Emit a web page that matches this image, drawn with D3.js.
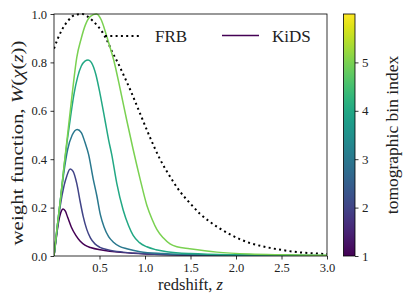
<!DOCTYPE html>
<html>
<head>
<meta charset="utf-8">
<script src="https://cdn.jsdelivr.net/npm/d3@7"></script>
<style>
  body { margin: 0; background: #fff; }
</style>
</head>
<body>
<script>
// redshift samples + weight values
var frbZ = [0, 0.044, 0.088, 0.15, 0.2, 0.25, 0.31, 0.36, 0.42, 0.48, 0.53, 0.59, 0.64, 0.7, 0.75, 0.84, 0.95, 1.055, 1.165, 1.275, 1.385, 1.495, 1.6, 1.71, 1.82, 1.93, 2.04, 2.15, 2.34, 2.52, 2.7, 2.85, 3.0]
var frbW = [0.857, 0.9, 0.935, 0.97, 0.99, 0.998, 1.0, 0.992, 0.974, 0.95, 0.926, 0.885, 0.843, 0.8, 0.76, 0.685, 0.585, 0.49, 0.4, 0.328, 0.266, 0.218, 0.176, 0.142, 0.114, 0.09, 0.07, 0.054, 0.036, 0.024, 0.015, 0.011, 0.008]

var bin1Z = [0, 0.02, 0.05, 0.075, 0.1, 0.125, 0.15, 0.19, 0.24, 0.286, 0.34, 0.4, 0.54, 0.7, 0.87, 1.2, 2.0, 3.0]
var bin1W = [0, 0.06, 0.14, 0.18, 0.194, 0.185, 0.16, 0.12, 0.085, 0.062, 0.045, 0.035, 0.024, 0.016, 0.011, 0.006, 0.002, 0.001]

var bin2Z = [0, 0.035, 0.07, 0.11, 0.14, 0.178, 0.21, 0.25, 0.29, 0.32, 0.36, 0.4, 0.45, 0.505, 0.6, 0.76, 1.0, 1.5, 3.0]
var bin2W = [0, 0.11, 0.21, 0.29, 0.33, 0.36, 0.35, 0.3, 0.22, 0.165, 0.11, 0.075, 0.05, 0.036, 0.025, 0.016, 0.009, 0.004, 0.001]

var bin3Z = [0, 0.035, 0.07, 0.11, 0.15, 0.2, 0.255, 0.3, 0.34, 0.38, 0.43, 0.47, 0.51, 0.55, 0.6, 0.65, 0.72, 0.8, 0.945, 1.2, 1.6, 3.0]
var bin3W = [0, 0.12, 0.23, 0.35, 0.44, 0.5, 0.523, 0.51, 0.47, 0.42, 0.32, 0.25, 0.17, 0.12, 0.08, 0.058, 0.04, 0.03, 0.018, 0.01, 0.005, 0.001]

var bin4Z = [0, 0.035, 0.07, 0.11, 0.143, 0.18, 0.22, 0.26, 0.3, 0.34, 0.375, 0.41, 0.46, 0.505, 0.56, 0.6, 0.634, 0.69, 0.76, 0.82, 0.87, 0.94, 1.02, 1.12, 1.24, 1.5, 2.0, 3.0]
var bin4W = [0, 0.12, 0.23, 0.37, 0.47, 0.57, 0.67, 0.74, 0.785, 0.805, 0.81, 0.8, 0.75, 0.672, 0.562, 0.48, 0.42, 0.3, 0.19, 0.125, 0.085, 0.055, 0.038, 0.026, 0.018, 0.01, 0.005, 0.002]

var bin5Z = [0, 0.035, 0.07, 0.11, 0.143, 0.2, 0.25, 0.3, 0.345, 0.4, 0.465, 0.52, 0.565, 0.61, 0.656, 0.73, 0.8, 0.87, 0.945, 1.02, 1.08, 1.13, 1.2, 1.275, 1.35, 1.49, 1.79, 2.15, 2.5, 3.0]
var bin5W = [0, 0.12, 0.23, 0.37, 0.48, 0.67, 0.82, 0.9, 0.955, 0.99, 1.0, 0.975, 0.926, 0.87, 0.81, 0.685, 0.56, 0.44, 0.32, 0.21, 0.15, 0.11, 0.075, 0.05, 0.038, 0.03, 0.016, 0.008, 0.005, 0.003]

var bins = [1, 2, 3, 4, 5]
var binZ = [bin1Z, bin2Z, bin3Z, bin4Z, bin5Z]
var binW = [bin1W, bin2W, bin3W, bin4W, bin5W]

var xTicks = [0.5, 1.0, 1.5, 2.0, 2.5, 3.0]
var yTicks = [0.0, 0.2, 0.4, 0.6, 0.8, 1.0]
var cbTicks = [1, 2, 3, 4, 5]

var serif = "'Liberation Serif', 'DejaVu Serif', 'Times New Roman', serif"

var screen = {width: 404, height: 303}
var plot = {left: 54, right: 327, top: 14, bottom: 256}
var cb = {left: 343.5, right: 355}

var xScale = d3.scaleLinear().domain([0, 3]).range([plot.left, plot.right])
var yScale = d3.scaleLinear().domain([0, 1]).range([plot.bottom, plot.top])
var cbScale = d3.scaleLinear().domain([1, 6]).range([plot.bottom, plot.top])
var color = function(b) { return d3.interpolateViridis((b - 1) / 5) }

var svg = d3.select("body")
  .append("svg")
  .attr("width", screen.width)
  .attr("height", screen.height)
  .attr("font-family", serif)

var line = d3.line()
  .x(function(d) { return xScale(d[0]) })
  .y(function(d) { return yScale(d[1]) })
  .curve(d3.curveMonotoneX)

svg.append("defs").append("clipPath").attr("id", "clip")
  .append("rect")
  .attr("x", plot.left).attr("y", plot.top - 1)
  .attr("width", plot.right - plot.left).attr("height", plot.bottom - plot.top + 1)

var lines = svg.append("g").attr("clip-path", "url(#clip)")

// FRB dotted
lines.append("path")
  .datum(frbZ.map(function(z, i) { return [z, frbW[i]] }))
  .attr("d", line)
  .attr("fill", "none")
  .attr("stroke", "#000")
  .attr("stroke-width", 2)
  .attr("stroke-dasharray", "2,3.3")

// KiDS bins
bins.forEach(function(b, k) {
  lines.append("path")
    .datum(binZ[k].map(function(z, i) { return [z, binW[k][i]] }))
    .attr("d", line)
    .attr("fill", "none")
    .attr("stroke", color(b))
    .attr("stroke-width", 1.5)
})

// axes
var xAxis = d3.axisBottom(xScale).tickValues(xTicks).tickFormat(d3.format(".1f")).tickSize(3.5).tickPadding(3.5)
var yAxis = d3.axisLeft(yScale).tickValues(yTicks).tickFormat(d3.format(".1f")).tickSize(3.5).tickPadding(3.5)

var gx = svg.append("g").attr("transform", "translate(0," + plot.bottom + ")").call(xAxis)
var gy = svg.append("g").attr("transform", "translate(" + plot.left + ",0)").call(yAxis)
;[gx, gy].forEach(function(g) {
  g.attr("font-family", serif).attr("font-size", 12.5)
  g.select(".domain").remove()
  g.selectAll("line").attr("stroke", "#000").attr("stroke-width", 0.8)
  g.selectAll("text").attr("fill", "#222")
})

svg.append("rect")
  .attr("x", plot.left).attr("y", plot.top)
  .attr("width", plot.right - plot.left).attr("height", plot.bottom - plot.top)
  .attr("fill", "none").attr("stroke", "#000").attr("stroke-width", 0.8)

// axis labels
svg.append("text")
  .attr("x", (plot.left + plot.right) / 2)
  .attr("y", 290)
  .attr("text-anchor", "middle")
  .attr("font-size", 16.5)
  .attr("fill", "#222")
  .html('redshift, <tspan font-style="italic">z</tspan>')

svg.append("text")
  .attr("transform", "translate(23,143) rotate(-90)")
  .attr("text-anchor", "middle")
  .attr("font-size", 17)
  .attr("textLength", 205)
  .attr("lengthAdjust", "spacingAndGlyphs")
  .attr("fill", "#222")
  .html('weight function, <tspan font-style="italic">W</tspan>(<tspan font-style="italic">χ</tspan>(<tspan font-style="italic">z</tspan>))')

// legend
var legend = svg.append("g")
legend.append("line")
  .attr("x1", 105).attr("x2", 140).attr("y1", 36).attr("y2", 36)
  .attr("stroke", "#000").attr("stroke-width", 2).attr("stroke-dasharray", "2,3.3")
legend.append("text").attr("x", 155).attr("y", 42).attr("font-size", 17).attr("fill", "#222").text("FRB")
legend.append("line")
  .attr("x1", 222).attr("x2", 259).attr("y1", 35.5).attr("y2", 35.5)
  .attr("stroke", color(1)).attr("stroke-width", 1.5)
legend.append("text").attr("x", 272).attr("y", 42).attr("font-size", 17).attr("fill", "#222").text("KiDS")

// colorbar
var grad = svg.select("defs").append("linearGradient")
  .attr("id", "viridis").attr("x1", 0).attr("y1", 1).attr("x2", 0).attr("y2", 0)
d3.range(0, 1.001, 0.05).forEach(function(t) {
  grad.append("stop").attr("offset", t).attr("stop-color", d3.interpolateViridis(t))
})
svg.append("rect")
  .attr("x", cb.left).attr("y", plot.top)
  .attr("width", cb.right - cb.left).attr("height", plot.bottom - plot.top)
  .attr("fill", "url(#viridis)")
  .attr("stroke", "#000").attr("stroke-width", 0.8)

var cbAxis = d3.axisRight(cbScale).tickValues(cbTicks).tickFormat(d3.format("d")).tickSize(3.5).tickPadding(3.5)
var gc = svg.append("g").attr("transform", "translate(" + cb.right + ",0)").call(cbAxis)
gc.attr("font-family", serif).attr("font-size", 13)
gc.select(".domain").remove()
gc.selectAll("line").attr("stroke", "#000").attr("stroke-width", 0.8)
gc.selectAll("text").attr("fill", "#222")

svg.append("text")
  .attr("transform", "translate(398," + ((plot.top + plot.bottom) / 2) + ") rotate(-90)")
  .attr("text-anchor", "middle")
  .attr("font-size", 17.5)
  .attr("fill", "#222")
  .text("tomographic bin index")
</script>
</body>
</html>
